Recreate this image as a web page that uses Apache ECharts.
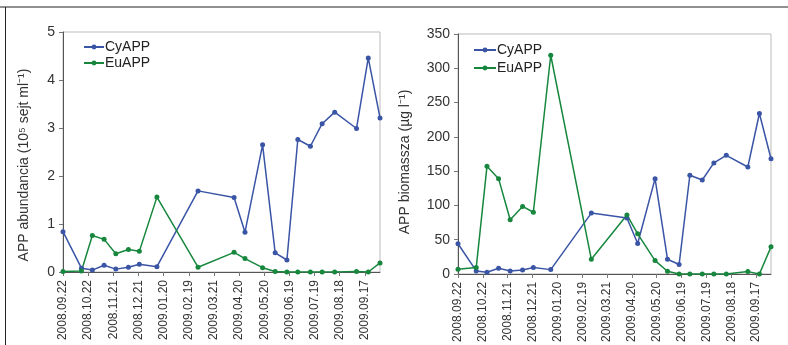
<!DOCTYPE html>
<html>
<head>
<meta charset="utf-8">
<script src="https://cdn.jsdelivr.net/npm/echarts@6/dist/echarts.min.js"></script>
<style>
  html, body { margin: 0; padding: 0; background: #fff; }
  #chart { width: 788px; height: 345px; }
</style>
</head>
<body>
<div id="chart"></div>
<script>
// Sampling dates (yyyy.mm.dd)
const sampleDates = [
  '2008.09.22', '2008.10.14', '2008.10.27', '2008.11.10', '2008.11.24', '2008.12.09',
  '2008.12.22', '2009.01.12', '2009.03.02', '2009.04.14', '2009.04.27', '2009.05.18',
  '2009.06.02', '2009.06.16', '2009.06.29', '2009.07.14', '2009.07.28', '2009.08.12',
  '2009.09.07', '2009.09.21', '2009.10.05'
];

// Date-axis tick labels (30-day steps)
const tickDates = [
  '2008.09.22', '2008.10.22', '2008.11.21', '2008.12.21', '2009.01.20', '2009.02.19',
  '2009.03.21', '2009.04.20', '2009.05.20', '2009.06.19', '2009.07.19', '2009.08.18',
  '2009.09.17'
];

// APP abundance (10^5 cells/ml)
const cyAbundance = [0.84, 0.08, 0.04, 0.14, 0.06, 0.10, 0.16, 0.11, 1.69, 1.55, 0.83,
  2.65, 0.40, 0.25, 2.76, 2.62, 3.09, 3.33, 2.99, 4.46, 3.21];
const euAbundance = [0.01, 0.02, 0.76, 0.68, 0.38, 0.47, 0.43, 1.56, 0.10, 0.41, 0.28,
  0.09, 0.01, 0.0, 0.0, 0.0, 0.0, 0.0, 0.01, 0.0, 0.19];

// APP biomass (µg/l)
const cyBiomass = [44, 4.4, 2.4, 8.3, 4.4, 5.9, 9.3, 6.3, 88.8, 81.5, 44.4,
  139, 21.5, 13.7, 144, 137, 162, 173, 156, 234, 168];
const euBiomass = [6.8, 9.3, 157, 139, 79, 98.5, 90, 319, 21.5, 86, 58.5,
  19.5, 3.9, 0, 0, 0, 0, 0, 3.4, 0, 39.5];

const BLUE = '#3a54a6';
const GREEN = '#16873d';
const FONT = '"Liberation Sans", Arial, sans-serif';

function toDay(s) {
  const p = s.split('.').map(Number);
  return Math.round((Date.UTC(p[0], p[1] - 1, p[2]) - Date.UTC(2008, 8, 22)) / 86400000);
}
const sampleDays = sampleDates.map(toDay);
const tickDays = tickDates.map(toDay);
const lastDay = sampleDays[sampleDays.length - 1];

function pairs(vals) { return vals.map((v, i) => [sampleDays[i], v]); }

function xAxisFor(gridIndex) {
  return {
    type: 'value', gridIndex, min: 0, max: lastDay, interval: 30,
    axisLine: { show: true, onZero: false, lineStyle: { color: '#555', width: 1 } },
    axisTick: { show: true, length: 4, customValues: tickDays, lineStyle: { color: '#777' } },
    axisLabel: {
      customValues: tickDays, rotate: 90, margin: 8,
      fontFamily: FONT, fontSize: 12, color: '#333',
      formatter: v => { const i = tickDays.indexOf(v); return i >= 0 ? tickDates[i] : ''; }
    },
    splitLine: { show: false }
  };
}
function yAxisFor(gridIndex, max, interval, name, gap, shift) {
  return {
    type: 'value', gridIndex, min: 0, max, interval,
    name, nameLocation: 'middle', nameGap: gap,
    nameTextStyle: { fontFamily: FONT, fontSize: 14, color: '#333', padding: [0, shift, 0, 0] },
    axisLine: { show: true, lineStyle: { color: '#555', width: 1 } },
    axisTick: { show: true, length: 4, lineStyle: { color: '#777' } },
    axisLabel: { fontFamily: FONT, fontSize: 14, color: '#333', margin: 8 },
    splitLine: { show: false }
  };
}
function lineSeries(name, color, vals, idx) {
  return {
    name, type: 'line', xAxisIndex: idx, yAxisIndex: idx,
    data: pairs(vals), symbol: 'circle', symbolSize: 5,
    itemStyle: { color }, lineStyle: { color, width: 1.5 }, animation: false
  };
}

const chart = echarts.init(document.getElementById('chart'));
chart.setOption({
  animation: false,
  grid: [
    { left: 63, top: 32, width: 317, height: 240, show: true, borderColor: '#bbb', borderWidth: 1 },
    { left: 458, top: 34, width: 313, height: 240, show: true, borderColor: '#bbb', borderWidth: 1 }
  ],
  legend: [
    { data: ['CyAPP', 'EuAPP'], orient: 'vertical', left: 78, top: 35, itemGap: 2,
      itemWidth: 20, itemHeight: 6, textStyle: { fontFamily: FONT, fontSize: 14, color: '#222', padding: [0, 0, 0, -4] } },
    { data: ['CyAPP', 'EuAPP'], orient: 'vertical', left: 468, top: 38, itemGap: 4,
      itemWidth: 22, itemHeight: 6, textStyle: { fontFamily: FONT, fontSize: 14, color: '#222', padding: [0, 0, 0, -4] } }
  ],
  xAxis: [xAxisFor(0), xAxisFor(1)],
  yAxis: [
    yAxisFor(0, 5, 1, 'APP abundancia (10⁵ sejt ml⁻¹)', 32, 26),
    yAxisFor(1, 350, 50, 'APP biomassza (µg l⁻¹)', 46, 16)
  ],
  series: [
    lineSeries('CyAPP', BLUE, cyAbundance, 0),
    lineSeries('EuAPP', GREEN, euAbundance, 0),
    lineSeries('CyAPP', BLUE, cyBiomass, 1),
    lineSeries('EuAPP', GREEN, euBiomass, 1)
  ],
  graphic: [
    { type: 'line', shape: { x1: 0, y1: 7, x2: 788, y2: 7 }, style: { stroke: '#222', lineWidth: 1 }, silent: true },
    { type: 'line', shape: { x1: 5.5, y1: 7, x2: 5.5, y2: 345 }, style: { stroke: '#222', lineWidth: 1 }, silent: true }
  ]
});
</script>
</body>
</html>
